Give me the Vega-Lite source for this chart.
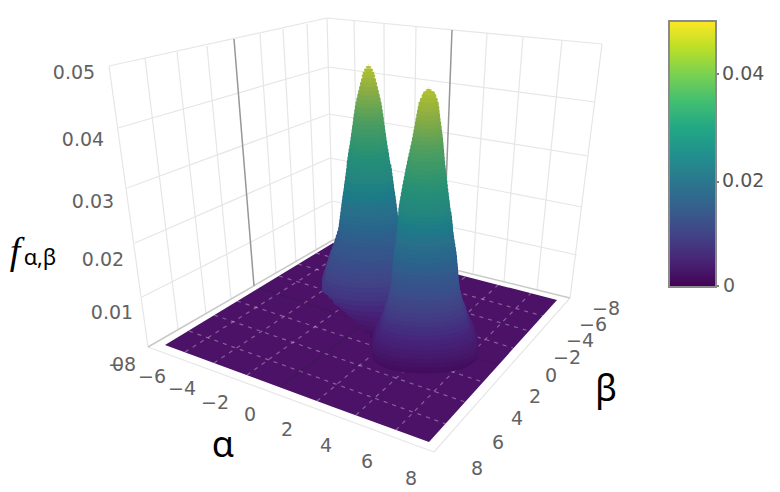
{"$schema":"https://vega.github.io/schema/vega-lite/v6.json","width":780,"height":492,"padding":0,"autosize":{"type":"none"},"background":"white","config":{"view":{"stroke":null}},"resolve":{"scale":{"color":"independent"}},
"datasets":{
"wall":[{"a":109,"b":66,"c":148,"d":347},{"a":145,"b":58,"c":178,"d":329},{"a":177,"b":52,"c":206,"d":314},{"a":207,"b":46,"c":231,"d":299},{"a":260,"b":34,"c":276,"d":273},{"a":283,"b":29,"c":296,"d":262},{"a":307,"b":24,"c":316,"d":250},{"a":327,"b":18,"c":333,"d":240},{"a":109,"b":66,"c":327,"d":18},{"a":118,"b":128,"c":328,"d":67},{"a":127,"b":188,"c":329,"d":114},{"a":135,"b":243,"c":330,"d":158},{"a":142,"b":297,"c":332,"d":201},{"a":354,"b":21,"c":358,"d":246},{"a":384,"b":23,"c":385,"d":253},{"a":416,"b":26,"c":413,"d":259},{"a":487,"b":33,"c":473,"d":273},{"a":523,"b":36,"c":504,"d":282},{"a":562,"b":40,"c":537,"d":290},{"a":602,"b":44,"c":570,"d":298},{"a":327,"b":18,"c":602,"d":44},{"a":328,"b":67,"c":595,"d":102},{"a":329,"b":114,"c":588,"d":156},{"a":330,"b":158,"c":582,"d":207},{"a":332,"b":201,"c":577,"d":255},{"a":148,"b":347,"c":434,"d":452},{"a":434,"b":452,"c":570,"d":298}],
"edge":[{"a":148,"b":347,"c":333,"d":240},{"a":333,"b":240,"c":570,"d":298}],
"zero":[{"a":234,"b":39,"c":254,"d":286},{"a":452,"b":30,"c":443,"d":266}],
"floor":[{"x":165,"t":345,"u":345},{"x":333,"t":243,"u":407},{"x":429,"t":267,"u":442},{"x":557,"t":300,"u":300}],
"floorgrid":[{"a":185,"b":352,"c":351,"d":248},{"a":214,"b":363,"c":378,"d":254},{"a":247,"b":375,"c":406,"d":262},{"a":317,"b":401,"c":465,"d":277},{"a":356,"b":415,"c":498,"d":285},{"a":396,"b":430,"c":531,"d":293},{"a":189,"b":331,"c":446,"d":424},{"a":214,"b":315,"c":465,"d":402},{"a":237,"b":301,"c":483,"d":382},{"a":279,"b":276,"c":513,"d":348},{"a":298,"b":264,"c":529,"d":331},{"a":316,"b":253,"c":543,"d":316}],
"floorzero":[{"a":280,"b":387,"c":436,"d":269},{"a":259,"b":288,"c":498,"d":365}],
"colorbar":[{"f":0},{"f":0.05}],
"peaks":[
{"x":410,"y":338,"w":35,"f":0},{"x":406,"y":332,"w":36,"f":0.0003},{"x":402,"y":326,"w":37,"f":0.0009},{"x":398,"y":320,"w":38,"f":0.0017},{"x":392,"y":314,"w":39,"f":0.0026},{"x":386,"y":308,"w":40,"f":0.0035},{"x":381,"y":302,"w":41,"f":0.0045},{"x":376,"y":296,"w":43,"f":0.0055},{"x":372,"y":290,"w":44,"f":0.0065},{"x":369,"y":284,"w":47,"f":0.0075},{"x":369,"y":280,"w":46,"f":0.008},{"x":369,"y":276,"w":44.7,"f":0.0088},{"x":369,"y":272,"w":43.5,"f":0.0094},{"x":369,"y":268,"w":42.3,"f":0.01},{"x":369,"y":264,"w":41,"f":0.0107},{"x":369,"y":260,"w":39.8,"f":0.0113},{"x":369,"y":256,"w":38.5,"f":0.012},{"x":369,"y":252,"w":37,"f":0.0126},{"x":369,"y":248,"w":35.5,"f":0.0134},{"x":369,"y":244,"w":34.4,"f":0.014},{"x":369,"y":240,"w":33.2,"f":0.0146},{"x":369,"y":236,"w":32,"f":0.0153},{"x":369,"y":232,"w":30.8,"f":0.0159},{"x":369,"y":228,"w":30.2,"f":0.0165},{"x":369,"y":224,"w":29.7,"f":0.0171},{"x":369,"y":220,"w":29.2,"f":0.0179},{"x":369,"y":216,"w":28.7,"f":0.0185},{"x":369,"y":212,"w":28.2,"f":0.0191},{"x":369,"y":208,"w":27.7,"f":0.0197},{"x":369,"y":204,"w":27.2,"f":0.0203},{"x":369,"y":200,"w":26.7,"f":0.0209},{"x":369,"y":196,"w":26.1,"f":0.0217},{"x":369,"y":192,"w":25.5,"f":0.0223},{"x":369,"y":188,"w":25,"f":0.0229},{"x":369,"y":184,"w":24.5,"f":0.0235},{"x":369,"y":180,"w":23.9,"f":0.0241},{"x":369,"y":176,"w":23.4,"f":0.0248},{"x":369,"y":172,"w":22.9,"f":0.0254},{"x":369,"y":168,"w":22.3,"f":0.0261},{"x":368.5,"y":164,"w":21.7,"f":0.0267},{"x":368.5,"y":160,"w":21.1,"f":0.0273},{"x":368.5,"y":156,"w":20.5,"f":0.0279},{"x":368.5,"y":152,"w":19.9,"f":0.0286},{"x":368.5,"y":148,"w":19.2,"f":0.0292},{"x":368.5,"y":144,"w":18.6,"f":0.0299},{"x":368.5,"y":140,"w":18,"f":0.0307},{"x":368.5,"y":136,"w":17.5,"f":0.0314},{"x":368.5,"y":132,"w":16.9,"f":0.0322},{"x":368.5,"y":128,"w":16.4,"f":0.033},{"x":368.5,"y":124,"w":15.8,"f":0.0337},{"x":368.5,"y":120,"w":15.3,"f":0.0344},{"x":368.5,"y":116,"w":14.8,"f":0.0352},{"x":368.5,"y":112,"w":14.2,"f":0.0359},{"x":368.5,"y":108,"w":13.6,"f":0.0367},{"x":368.5,"y":104,"w":13,"f":0.0375},{"x":368.5,"y":100,"w":12.1,"f":0.0382},{"x":368.5,"y":96,"w":11.2,"f":0.0389},{"x":368.5,"y":92,"w":10.3,"f":0.0398},{"x":368.5,"y":88,"w":9.4,"f":0.0405},{"x":368.5,"y":84,"w":8.5,"f":0.0412},{"x":368.5,"y":80,"w":7.5,"f":0.0421},{"x":368.5,"y":76,"w":6.6,"f":0.0428},{"x":368.5,"y":73,"w":5.6,"f":0.0433},{"x":368.5,"y":70,"w":4.5,"f":0.044},{"x":368.5,"y":67,"w":2.8,"f":0.0445},{"x":368.5,"y":65,"w":0.8,"f":0.045},
{"x":425,"y":358,"w":40,"f":0},{"x":425,"y":356,"w":47,"f":0},{"x":425,"y":352,"w":52,"f":0.0004},{"x":425,"y":348,"w":53.5,"f":0.001},{"x":425,"y":344,"w":53,"f":0.0018},{"x":425,"y":340,"w":52,"f":0.0026},{"x":425,"y":336,"w":50.5,"f":0.0033},{"x":425,"y":332,"w":49,"f":0.004},{"x":425,"y":328,"w":47,"f":0.0047},{"x":425,"y":324,"w":45,"f":0.0054},{"x":425,"y":320,"w":43.5,"f":0.0061},{"x":425,"y":316,"w":42,"f":0.0068},{"x":425,"y":312,"w":41,"f":0.0075},{"x":425,"y":308,"w":39.5,"f":0.0082},{"x":425,"y":304,"w":38,"f":0.0089},{"x":425,"y":300,"w":37,"f":0.0096},{"x":425,"y":296,"w":36,"f":0.0102},{"x":425,"y":292,"w":35,"f":0.0109},{"x":425,"y":288,"w":34.5,"f":0.0115},{"x":425,"y":284,"w":34,"f":0.0122},{"x":425,"y":280,"w":33.5,"f":0.0129},{"x":425,"y":276,"w":33.3,"f":0.0136},{"x":425,"y":272,"w":33,"f":0.0142},{"x":425,"y":268,"w":32.6,"f":0.0148},{"x":425,"y":264,"w":32.3,"f":0.0156},{"x":425,"y":260,"w":32,"f":0.0162},{"x":425,"y":256,"w":31.5,"f":0.0169},{"x":425,"y":252,"w":30.9,"f":0.0175},{"x":425,"y":248,"w":30.3,"f":0.0182},{"x":425,"y":244,"w":29.7,"f":0.0188},{"x":425,"y":240,"w":29.1,"f":0.0195},{"x":425,"y":236,"w":28.6,"f":0.0202},{"x":425,"y":232,"w":28.1,"f":0.0208},{"x":425,"y":228,"w":27.8,"f":0.0215},{"x":425,"y":224,"w":27.4,"f":0.0221},{"x":425,"y":220,"w":27,"f":0.0228},{"x":425,"y":216,"w":26.5,"f":0.0235},{"x":424.5,"y":212,"w":26.1,"f":0.0242},{"x":424.5,"y":208,"w":25.6,"f":0.0248},{"x":424.6,"y":204,"w":25.1,"f":0.0254},{"x":424.7,"y":200,"w":24.5,"f":0.0261},{"x":424.8,"y":196,"w":23.9,"f":0.0267},{"x":424.9,"y":192,"w":23.3,"f":0.0275},{"x":425,"y":188,"w":22.7,"f":0.0281},{"x":425.2,"y":184,"w":22.1,"f":0.0288},{"x":425.3,"y":180,"w":21.5,"f":0.0294},{"x":425.5,"y":176,"w":20.9,"f":0.0301},{"x":425.6,"y":172,"w":20.3,"f":0.0308},{"x":425.8,"y":168,"w":19.7,"f":0.0314},{"x":426,"y":164,"w":19.1,"f":0.0321},{"x":426.2,"y":160,"w":18.5,"f":0.0327},{"x":426.5,"y":156,"w":17.9,"f":0.0334},{"x":426.8,"y":152,"w":17.3,"f":0.034},{"x":427,"y":148,"w":16.7,"f":0.0348},{"x":427.3,"y":144,"w":16.1,"f":0.0354},{"x":427.5,"y":140,"w":15.5,"f":0.036},{"x":427.7,"y":136,"w":14.9,"f":0.0367},{"x":427.8,"y":132,"w":14.3,"f":0.0373},{"x":427.9,"y":128,"w":13.7,"f":0.0381},{"x":428,"y":124,"w":13.1,"f":0.0387},{"x":428,"y":120,"w":12.5,"f":0.0394},{"x":428.2,"y":116,"w":11.9,"f":0.04},{"x":428.3,"y":112,"w":11.3,"f":0.0407},{"x":428.5,"y":108,"w":10.8,"f":0.0414},{"x":428.6,"y":104,"w":10.1,"f":0.042},{"x":428.8,"y":100,"w":8.9,"f":0.0427},{"x":429,"y":96,"w":7.3,"f":0.0434},{"x":429,"y":93,"w":6,"f":0.0439},{"x":428.7,"y":90,"w":3,"f":0.0445},{"x":428.5,"y":88,"w":0.8,"f":0.0449}],
"ticks":[{"x":122,"y":365,"t":"−8"},{"x":118,"y":365,"t":"0"},{"x":152,"y":377,"t":"−6"},{"x":182,"y":389,"t":"−4"},{"x":215,"y":403,"t":"−2"},{"x":250,"y":415,"t":"0"},{"x":287,"y":430,"t":"2"},{"x":326,"y":446,"t":"4"},{"x":367,"y":462,"t":"6"},{"x":411,"y":479,"t":"8"},{"x":477,"y":469,"t":"8"},{"x":498,"y":443,"t":"6"},{"x":517,"y":419,"t":"4"},{"x":535,"y":397,"t":"2"},{"x":551,"y":376,"t":"0"},{"x":567,"y":358,"t":"−2"},{"x":580,"y":341,"t":"−4"},{"x":593,"y":325,"t":"−6"},{"x":606,"y":309,"t":"−8"},{"x":74,"y":73,"t":"0.05"},{"x":83,"y":140,"t":"0.04"},{"x":93,"y":202,"t":"0.03"},{"x":103,"y":260,"t":"0.02"},{"x":112,"y":313,"t":"0.01"},{"x":729,"y":286,"t":"0"}],
"titles":[{"x":223,"y":446,"t":"α"},{"x":606,"y":390,"t":"β"}],
"sub":[{"x":40,"y":258,"t":"α,β"}],
"fn":[{"x":15,"y":253,"t":"f"}],
"barticks":[{"a":716,"b":74,"c":719,"d":74},{"a":716,"b":182,"c":719,"d":182},{"a":716,"b":286,"c":719,"d":286}]
},
"layer":[
{"data":{"name":"wall"},"mark":{"type":"rule","color":"#e6e6e6","strokeWidth":1.2},"encoding":{"x":{"field":"a","type":"quantitative","scale":{"domain":[0,780],"range":[0,780],"nice":false,"zero":false},"axis":null},"y":{"field":"b","type":"quantitative","scale":{"domain":[492,0],"range":[492,0],"nice":false,"zero":false},"axis":null},"x2":{"field":"c"},"y2":{"field":"d"}}},
{"data":{"name":"edge"},"mark":{"type":"rule","color":"#c9c9c9","strokeWidth":1.5},"encoding":{"x":{"field":"a","type":"quantitative"},"y":{"field":"b","type":"quantitative"},"x2":{"field":"c"},"y2":{"field":"d"}}},
{"data":{"name":"zero"},"mark":{"type":"rule","color":"#979797","strokeWidth":1.5},"encoding":{"x":{"field":"a","type":"quantitative"},"y":{"field":"b","type":"quantitative"},"x2":{"field":"c"},"y2":{"field":"d"}}},
{"data":{"name":"floor"},"mark":{"type":"area","color":"#4c1268","opacity":1},"encoding":{"x":{"field":"x","type":"quantitative"},"y":{"field":"t","type":"quantitative"},"y2":{"field":"u"}}},
{"data":{"name":"floorgrid"},"mark":{"type":"rule","color":"#ffffff","opacity":0.33,"strokeWidth":1.2,"strokeDash":[4,5]},"encoding":{"x":{"field":"a","type":"quantitative"},"y":{"field":"b","type":"quantitative"},"x2":{"field":"c"},"y2":{"field":"d"}}},
{"data":{"name":"floorzero"},"mark":{"type":"rule","color":"#2e2040","opacity":0.45,"strokeWidth":1.2},"encoding":{"x":{"field":"a","type":"quantitative"},"y":{"field":"b","type":"quantitative"},"x2":{"field":"c"},"y2":{"field":"d"}}},
{"data":{"name":"peaks"},"mark":{"type":"point","filled":true,"opacity":1,"strokeWidth":0,"shape":"M-1,-.12A1,.25 0 0 1 1,-.12L1,.12A1,.25 0 0 1 -1,.12Z"},"encoding":{"x":{"field":"x","type":"quantitative"},"y":{"field":"y","type":"quantitative"},"size":{"field":"w","type":"quantitative","legend":null,"scale":{"type":"pow","exponent":2,"domain":[0,100],"range":[0,40000]}},"color":{"field":"f","type":"quantitative","legend":null,"scale":{"domain":[0,0.005,0.01,0.015,0.02,0.025,0.03,0.035,0.04,0.045,0.05],"range":["#440c5e","#46247a","#414487","#34598b","#2a6f8a","#26857f","#2e9370","#509e5e","#8aac45","#b8c22c","#e0d020"]}}}},
{"data":{"name":"colorbar"},"mark":{"type":"point","filled":true,"opacity":0},"encoding":{"color":{"field":"f","type":"quantitative","scale":{"scheme":"viridis","domain":[0,0.05]},"legend":{"title":null,"orient":"none","legendX":669,"legendY":21,"gradientLength":266,"gradientThickness":47,"gradientStrokeColor":"#8a8a8a","gradientStrokeWidth":2,"values":[0.02,0.04],"labelExpr":"format(datum.value,'.2f')","labelFont":"DejaVu Sans","labelFontSize":19,"labelColor":"#555555","labelOffset":6}}}},
{"data":{"name":"barticks"},"mark":{"type":"rule","color":"#555555","strokeWidth":1.5},"encoding":{"x":{"field":"a","type":"quantitative"},"y":{"field":"b","type":"quantitative"},"x2":{"field":"c"},"y2":{"field":"d"}}},
{"data":{"name":"ticks"},"mark":{"type":"text","font":"DejaVu Sans","fontSize":19,"color":"#626262","align":"center","baseline":"middle"},"encoding":{"x":{"field":"x","type":"quantitative"},"y":{"field":"y","type":"quantitative"},"text":{"field":"t"}}},
{"data":{"name":"titles"},"mark":{"type":"text","font":"Noto Sans","fontSize":36,"color":"#000000","align":"center","baseline":"middle"},"encoding":{"x":{"field":"x","type":"quantitative"},"y":{"field":"y","type":"quantitative"},"text":{"field":"t"}}},
{"data":{"name":"sub"},"mark":{"type":"text","font":"Noto Sans","fontSize":22,"color":"#000000","align":"center","baseline":"middle"},"encoding":{"x":{"field":"x","type":"quantitative"},"y":{"field":"y","type":"quantitative"},"text":{"field":"t"}}},
{"data":{"name":"fn"},"mark":{"type":"text","font":"Liberation Serif","fontStyle":"italic","fontSize":38,"color":"#000000","align":"center","baseline":"middle"},"encoding":{"x":{"field":"x","type":"quantitative"},"y":{"field":"y","type":"quantitative"},"text":{"field":"t"}}}
]}
